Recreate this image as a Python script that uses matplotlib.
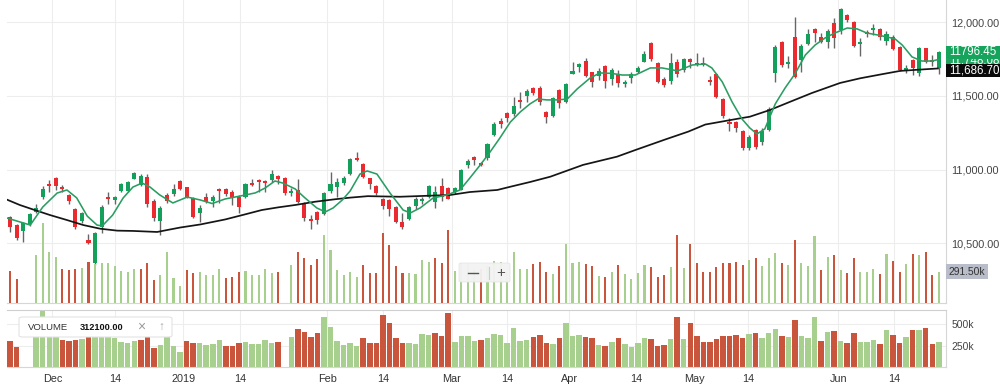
import numpy as np
import matplotlib
matplotlib.use("Agg")
import matplotlib.pyplot as plt
import matplotlib.transforms as mtransforms
from matplotlib.patches import FancyBboxPatch, Rectangle
from matplotlib.lines import Line2D

plt.rcParams["font.family"] = ["Liberation Sans", "DejaVu Sans"]

# daily candles, oldest first (index 0 = late Nov 2018)
opens = [
    10676, 10624, 10583, 10631, 10714, 10812, 10904, 10945, 10884, 10828,
    10730, 10651, 10522, 10366, 10608, 10816, 10794, 10857, 10857, 10936,
    10895, 10952, 10789, 10651, 10828, 10832, 10925, 10880, 10805, 10707,
    10812, 10789, 10868, 10868, 10846, 10812, 10816, 10907, 10929, 10923,
    10929, 10957, 10941, 10843, 10861, 10771, 10665, 10710, 10699, 10857,
    10884, 10911, 10970, 11077, 11038, 10941, 10891, 10798, 10794, 10748,
    10646, 10663, 10753, 10787, 10816, 10782, 10889, 10873, 10845, 10865,
    11031, 11088, 11048, 11077, 11235, 11330, 11384, 11377, 11472, 11501,
    11556, 11552, 11393, 11366, 11538, 11461, 11651, 11698, 11737, 11660,
    11637, 11703, 11615, 11647, 11579, 11620, 11660, 11732, 11857, 11726,
    11613, 11601, 11732, 11676, 11749, 11721, 11721, 11606, 11649, 11479,
    11325, 11321, 11262, 11149, 11269, 11189, 11269, 11656, 11866, 11719,
    11902, 11744, 11850, 11954, 11898, 11864, 11993, 11947, 12049, 12000,
    11852, 11932, 11947, 11954, 11873, 11902, 11834, 11676, 11744, 11654,
    11823, 11744, 11687]
highs = [
    10685, 10631, 10646, 10703, 10767, 10889, 10929, 10952, 10895, 10834,
    10737, 10714, 10563, 10576, 10758, 10846, 10821, 10907, 10925, 10986,
    10968, 10968, 10798, 10755, 10839, 10900, 10929, 10884, 10816, 10760,
    10843, 10828, 10877, 10873, 10861, 10828, 10907, 10936, 10938, 10929,
    10997, 10963, 10948, 10873, 10936, 10782, 10692, 10719, 10850, 10986,
    10941, 10957, 11077, 11121, 11043, 10945, 10895, 10805, 10798, 10755,
    10703, 10753, 10816, 10816, 10895, 10889, 10941, 10880, 10884, 11002,
    11070, 11094, 11055, 11184, 11320, 11352, 11393, 11495, 11529, 11547,
    11563, 11569, 11400, 11495, 11545, 11586, 11732, 11721, 11755, 11664,
    11687, 11710, 11687, 11676, 11608, 11660, 11705, 11807, 11864, 11732,
    11630, 11789, 11751, 11759, 11755, 11789, 11766, 11637, 11654, 11484,
    11348, 11330, 11269, 11235, 11279, 11282, 11425, 11846, 11873, 11773,
    12034, 11850, 11954, 11959, 11925, 11954, 12031, 12095, 12056, 12008,
    11891, 11947, 11988, 11961, 11941, 11913, 11839, 11710, 11751, 11834,
    11827, 11778, 11807]
lows = [
    10578, 10522, 10511, 10617, 10707, 10798, 10850, 10861, 10850, 10767,
    10595, 10635, 10493, 10352, 10572, 10764, 10764, 10850, 10850, 10934,
    10889, 10748, 10653, 10556, 10775, 10823, 10861, 10805, 10674, 10646,
    10771, 10748, 10775, 10821, 10760, 10707, 10809, 10891, 10850, 10850,
    10918, 10902, 10828, 10821, 10775, 10651, 10595, 10629, 10692, 10843,
    10816, 10895, 10963, 11058, 10941, 10866, 10831, 10730, 10685, 10635,
    10595, 10658, 10735, 10767, 10805, 10743, 10787, 10798, 10834, 10861,
    11014, 11033, 11022, 11067, 11230, 11284, 11321, 11366, 11416, 11457,
    11506, 11438, 11318, 11355, 11420, 11454, 11647, 11660, 11630, 11558,
    11608, 11552, 11574, 11563, 11558, 11586, 11654, 11728, 11737, 11586,
    11563, 11581, 11630, 11664, 11687, 11705, 11705, 11574, 11484, 11348,
    11262, 11257, 11133, 11133, 11143, 11167, 11262, 11596, 11698, 11687,
    11624, 11664, 11846, 11868, 11857, 11827, 11827, 11918, 12002, 11832,
    11773, 11900, 11913, 11879, 11846, 11812, 11669, 11656, 11642, 11635,
    11721, 11703, 11651]
closes = [
    10608, 10534, 10640, 10699, 10737, 10866, 10889, 10891, 10868, 10789,
    10608, 10703, 10500, 10568, 10748, 10798, 10812, 10900, 10918, 10975,
    10959, 10767, 10669, 10741, 10787, 10868, 10868, 10816, 10680, 10741,
    10782, 10816, 10855, 10832, 10805, 10748, 10900, 10895, 10914, 10911,
    10970, 10936, 10839, 10857, 10782, 10669, 10651, 10658, 10843, 10902,
    10918, 10941, 11070, 11065, 10948, 10900, 10839, 10755, 10730, 10646,
    10612, 10748, 10798, 10800, 10891, 10845, 10816, 10802, 10877, 10997,
    11060, 11062, 11031, 11177, 11308, 11311, 11348, 11432, 11457, 11535,
    11518, 11457, 11355, 11484, 11450, 11579, 11669, 11715, 11637, 11596,
    11671, 11601, 11676, 11586, 11596, 11647, 11692, 11785, 11749, 11592,
    11574, 11726, 11647, 11751, 11732, 11710, 11710, 11592, 11495, 11364,
    11307, 11280, 11149, 11223, 11155, 11262, 11409, 11832, 11710, 11732,
    11630, 11841, 11920, 11925, 11864, 11943, 11891, 12090, 12015, 11841,
    11864, 11920, 11959, 11898, 11918, 11818, 11676, 11692, 11687, 11827,
    11728, 11728, 11796.45]

# volume in thousands, 0 = no data that day
volumes = [
    300, 235, 0, 0, 429, 694, 456, 410, 316, 309,
    316, 324, 368, 354, 361, 361, 338, 298, 285, 310,
    317, 365, 224, 264, 456, 241, 177, 306, 280, 286,
    261, 268, 317, 241, 251, 286, 296, 268, 265, 315,
    280, 291, 0, 350, 450, 406, 348, 395, 591, 467,
    308, 261, 286, 251, 345, 280, 282, 610, 511, 335,
    280, 280, 274, 385, 375, 402, 366, 631, 298, 363,
    363, 309, 316, 336, 383, 375, 285, 455, 310, 313,
    355, 375, 286, 272, 338, 515, 365, 375, 355, 338,
    258, 248, 288, 345, 272, 232, 280, 345, 326, 248,
    262, 326, 591, 325, 518, 366, 292, 288, 326, 362,
    362, 375, 345, 385, 402, 338, 402, 442, 366, 348,
    551, 366, 338, 583, 305, 412, 425, 305, 277, 402,
    288, 288, 317, 272, 435, 378, 286, 355, 435, 432,
    454, 266, 291.5]
# g = up day, r = down day, - = no bar
volume_dir = ("rr--ggggrr" "rgrggggggg" "rrrggggrrg" "gggrrrgggg" "gr-grrrrgg"
              "ggggrrrrrr" "rggggrrrgg" "ggrggggggg" "rrrgrgggrr" "grgrggggrr"
              "rgrgrrrrrr" "rrrgrgggrg" "rgggrgrgrr" "gggrgrrgrg" "rrg")

# moving averages (bar index, price)
ma_fast_x = [-0.5, 3.1, 5.0, 7.2, 8.7, 10.2, 11.8, 13.3, 14.1, 15.7, 17.3, 18.8, 20.2,
             21.4, 22.9, 24.9, 27.1, 29.1, 30.9, 32.9, 35.2, 37.5, 39.0, 40.5, 41.7,
             43.6, 45.1, 46.9, 48.2, 49.4, 50.8, 52.0, 53.5, 54.6, 56.1, 58.1, 60.1,
             61.2, 62.7, 64.7, 66.8, 68.8, 70.3, 71.9, 73.4, 74.9, 76.5, 78.0, 79.5,
             80.7, 82.1, 83.6, 85.2, 86.7, 88.7, 90.2, 92.0, 93.6, 95.6, 97.9, 99.7,
             102.1, 104.3, 106.3, 107.3, 108.9, 110.4, 111.9, 113.1, 114.2, 115.4,
             117.0, 118.5, 120.0, 121.6, 123.1, 124.6, 126.1, 128.0, 129.5, 131.0,
             132.6, 134.1, 135.3, 136.4, 137.9, 139.4, 141.0, 142.0]
ma_fast_y = [10672, 10624, 10746, 10841, 10862, 10808, 10685, 10624, 10618, 10692, 10808,
             10882, 10909, 10882, 10828, 10774, 10814, 10794, 10770, 10801, 10821, 10842,
             10875, 10923, 10909, 10869, 10808, 10740, 10713, 10740, 10794, 10855, 10970,
             10991, 10970, 10841, 10726, 10706, 10740, 10808, 10828, 10862, 10943, 11032,
             11120, 11215, 11323, 11391, 11446, 11479, 11473, 11473, 11479, 11547, 11622,
             11656, 11653, 11642, 11642, 11690, 11690, 11670, 11710, 11717, 11690, 11595,
             11459, 11344, 11283, 11242, 11276, 11446, 11554, 11649, 11778, 11846, 11893,
             11927, 11961, 11955, 11927, 11914, 11900, 11887, 11846, 11765, 11737, 11737,
             11748.08]
ma_slow_x = [-0.5, 1.5, 3.5, 6.1, 8.7, 11.2, 13.8, 16.4, 18.8, 22.5, 24.0, 26.0, 29.1,
             32.9, 35.9, 38.5, 41.0, 43.6, 46.6, 49.7, 52.0, 54.7, 59.6, 65.3, 67.3, 70.3,
             74.5, 76.5, 79.5, 82.6, 87.6, 92.8, 95.6, 100.2, 103.7, 106.3, 108.7, 111.6,
             113.1, 116.2, 119.3, 122.6, 126.9, 130.0, 133.5, 136.1, 139.9, 142.0]
ma_slow_y = [10797, 10760, 10730, 10692, 10658, 10624, 10599, 10586, 10584, 10577, 10590,
             10607, 10628, 10662, 10696, 10726, 10744, 10760, 10782, 10799, 10810, 10820,
             10816, 10825, 10828, 10848, 10862, 10884, 10916, 10952, 11032, 11088, 11133,
             11205, 11258, 11306, 11325, 11348, 11359, 11405, 11461, 11520, 11588, 11620,
             11649, 11670, 11681, 11686.70]

tick_pos = [6.47, 16.06, 26.5, 35.17, 48.52, 57.08, 67.54, 76.04, 85.52, 95.72,
            104.63, 112.9, 126.65, 135.17]
tick_labels = ["Dec", "14", "2019", "14", "Feb", "14", "Mar", "14", "Apr", "14",
               "May", "14", "Jun", "14"]
price_ticks = [10500, 11000, 11500, 12000]
volume_ticks = [250, 500]
legend_volume = 312100.00

GREEN = "#12a05a"
RED = "#eb2a2f"
WICK = "#666666"
MA_GREEN = "#2a9d62"
VOL_GREEN = "#a7d08e"
VOL_RED = "#c9553c"
GRID = "#ededed"
EDGE = "#d6d6d6"

W, H = 1000, 390


def fx(x):
    return x / W


def fy(y):
    return 1 - y / H


fig = plt.figure(figsize=(W / 100, H / 100), dpi=100, facecolor="white")

left, right = 7, 946
price_bottom = 303.3
vol_top, vol_bottom = 309.5, 367
ax_w = (right - left) / W

ax_price = fig.add_axes([fx(left), fy(price_bottom), ax_w, price_bottom / H], zorder=1)
ax_ov = fig.add_axes([fx(left), fy(price_bottom), ax_w, price_bottom / H], zorder=2,
                     sharex=ax_price)
ax_vol = fig.add_axes([fx(left), fy(vol_bottom), ax_w, (vol_bottom - vol_top) / H],
                      zorder=1, sharex=ax_price)

idx = np.arange(len(opens))
o = np.array(opens, dtype=float)
c = np.array(closes, dtype=float)
hi = np.array(highs, dtype=float)
lo = np.array(lows, dtype=float)
vol = np.array(volumes, dtype=float)
vdir = np.array(list(volume_dir))

price_lim = (10093, 12151)
ax_price.set_xlim(-0.46, 143.1)
ax_price.set_ylim(*price_lim)

# candles
up = c >= o
ax_price.vlines(idx, lo, hi, color=WICK, lw=1, zorder=3)
body_h = np.maximum(np.abs(c - o), 9)
ax_price.bar(idx, body_h, bottom=np.minimum(o, c), width=0.62,
             color=np.where(up, GREEN, RED), linewidth=0, zorder=4)

ax_price.plot(ma_slow_x, ma_slow_y, color="#151515", lw=1.25, zorder=5,
              solid_capstyle="butt")
ax_price.plot(ma_fast_x, ma_fast_y, color=MA_GREEN, lw=1.15, zorder=6)

# volume overlay inside the price pane
has = vdir != "-"
vcol = np.where(vdir == "g", VOL_GREEN, VOL_RED)
ax_ov.bar(idx[has], vol[has], width=0.32, color=vcol[has], linewidth=0)
ax_ov.set_ylim(32, 2522)
ax_ov.axis("off")
ax_ov.patch.set_visible(False)

# lower volume pane
ax_vol.bar(idx[has], vol[has], width=0.84, color=vcol[has], linewidth=0)
ax_vol.set_ylim(0, 675)

# axes styling
for ax in (ax_price, ax_vol):
    ax.set_xticks(tick_pos)
    ax.grid(True, color=GRID, lw=0.8, zorder=0)
    ax.set_axisbelow(True)
    for side in ("left", "top"):
        ax.spines[side].set_visible(False)
    for side in ("right", "bottom"):
        ax.spines[side].set_color(EDGE)
        ax.spines[side].set_linewidth(0.8)
    ax.yaxis.tick_right()
    ax.tick_params(axis="both", length=0, labelsize=7.8, labelcolor="#444444")
    ax.tick_params(axis="y", pad=4)

ax_vol.spines["top"].set_visible(True)
ax_vol.spines["top"].set_color("#cfcfcf")
ax_vol.spines["top"].set_linewidth(0.8)

ax_price.set_yticks(price_ticks)
ax_price.set_yticklabels([f"{v:,.2f}" for v in price_ticks])
ax_price.tick_params(axis="x", labelbottom=False)

ax_vol.set_yticks(volume_ticks)
ax_vol.set_yticklabels([f"{v}k" for v in volume_ticks], fontsize=7.5)
ax_vol.set_xticklabels(tick_labels)
ax_vol.tick_params(axis="x", pad=5, labelsize=7.8, labelcolor="#333333")

# value tags on the right edge
tp = mtransforms.blended_transform_factory(ax_price.transAxes, ax_price.transData)
ppx = (price_lim[1] - price_lim[0]) / price_bottom
tag_w = 54 / (right - left)
tag_h = 12.6


def price_tag(value, text, face, z, shift=0.0):
    yc = value - shift * ppx
    ax_price.add_patch(Rectangle((1.0, yc - tag_h / 2 * ppx), tag_w, tag_h * ppx,
                                 transform=tp, facecolor=face, edgecolor="none",
                                 clip_on=False, zorder=z))
    ax_price.text(1.0 + 3.5 / (right - left), yc, text, transform=tp, ha="left",
                  va="center", fontsize=8.3, color="white", clip_on=False, zorder=z + 0.5)


price_tag(ma_fast_y[-1], f"{ma_fast_y[-1]:,.2f}", "#1fa35e", 10, shift=1.5)
price_tag(ma_slow_y[-1], f"{ma_slow_y[-1]:,.2f}", "#0a0a0a", 11, shift=2.0)
price_tag(closes[-1], f"{closes[-1]:.2f}", "#16a35c", 12)

to = mtransforms.blended_transform_factory(ax_ov.transAxes, ax_ov.transData)
vpx = (2522 - 32) / price_bottom
ax_ov.add_patch(Rectangle((1.0, volumes[-1] - 7.5 * vpx), 41.5 / (right - left), 15 * vpx,
                          transform=to, facecolor="#b9bdca", edgecolor="none",
                          clip_on=False, zorder=10))
ax_ov.text(1.0 + 2.5 / (right - left), volumes[-1], f"{volumes[-1]:.2f}k", transform=to,
           ha="left", va="center", fontsize=7.4, color="#333333", clip_on=False, zorder=11)

# zoom control
zoom_box = FancyBboxPatch((fx(459), fy(282)), (510 - 459) / W, 19 / H,
                          boxstyle="round,pad=0,rounding_size=0.003",
                          transform=fig.transFigure, facecolor="#f3f3f3",
                          edgecolor="#e6e6e6", lw=0.6, alpha=0.95, zorder=10)
fig.add_artist(zoom_box)
fig.add_artist(Line2D([fx(468), fx(478)], [fy(272.5)] * 2, transform=fig.transFigure,
                      color="#555555", lw=1.0, zorder=11))
fig.add_artist(Line2D([fx(489)] * 2, [fy(266.5), fy(279)], transform=fig.transFigure,
                      color="#cccccc", lw=0.8, zorder=11))
fig.text(fx(501), fy(272.5), "+", ha="center", va="center", fontsize=11,
         color="#555555", zorder=11)

# volume legend box
leg = FancyBboxPatch((fx(19), fy(337)), (172 - 19) / W, 20 / H,
                     boxstyle="round,pad=0,rounding_size=0.004",
                     transform=fig.transFigure, facecolor="white",
                     edgecolor="#e3e3e3", lw=0.8, zorder=10)
fig.add_artist(leg)
fig.text(fx(28), fy(327), "VOLUME", ha="left", va="center", fontsize=6.8,
         color="#333333", zorder=11)
fig.text(fx(80), fy(327), f"{legend_volume:.2f}", ha="left", va="center", fontsize=6.6,
         fontweight="bold", color="#111111", zorder=11)
fig.text(fx(141), fy(327), "\u00d7", ha="center", va="center", fontsize=10,
         color="#9a9a9a", zorder=11)
fig.text(fx(161), fy(327), "\u2191", ha="center", va="center", fontsize=8.5,
         color="#aaaaaa", zorder=11)

# faint watermark cut by the top edge
fig.text(fx(898), fy(0), "FINANCE", ha="center", va="center", fontsize=10,
         color="#e4e4e4", zorder=0.5)

fig.savefig("out.png", dpi=100, facecolor="white")
